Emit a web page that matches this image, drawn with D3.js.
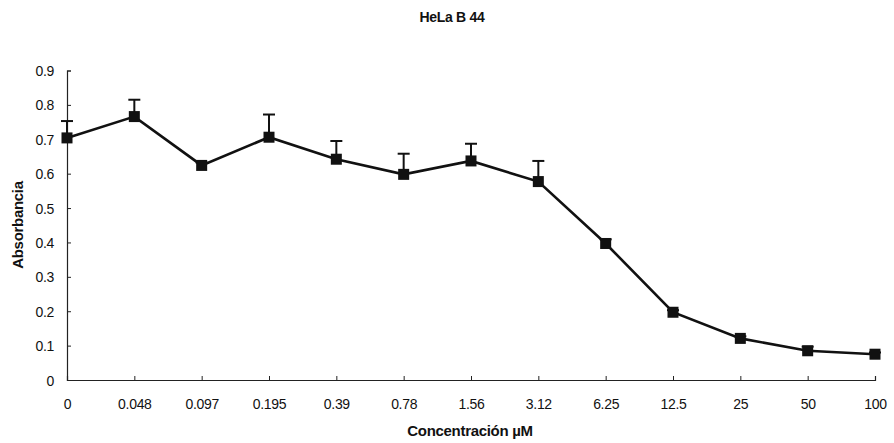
<!DOCTYPE html>
<html>
<head>
<meta charset="utf-8">
<script src="https://cdn.jsdelivr.net/npm/d3@7"></script>
<style>
  html, body { margin: 0; padding: 0; background: #fff; }
  svg text { font-family: "Liberation Sans", Arial, sans-serif; fill: #111; }
</style>
</head>
<body>
<svg id="chart" width="894" height="443"></svg>
<script>
// Concentrations (µM) along the category axis
const concentrations = ["0", "0.048", "0.097", "0.195", "0.39", "0.78", "1.56", "3.12", "6.25", "12.5", "25", "50", "100"];
// Mean absorbance at each concentration
const absorbance = [0.704, 0.766, 0.624, 0.706, 0.642, 0.598, 0.637, 0.577, 0.397, 0.197, 0.121, 0.085, 0.075];
// Upper error (SD) for each point
const errorUp = [0.049, 0.049, 0.008, 0.066, 0.053, 0.060, 0.050, 0.060, 0.012, 0.006, 0.006, 0.012, 0.005];
// Y-axis tick values
const yTicks = [0, 0.1, 0.2, 0.3, 0.4, 0.5, 0.6, 0.7, 0.8, 0.9];

const svg = d3.select("#chart");
const plotLeft = 67, plotRight = 875, plotTop = 70.5, plotBottom = 380;

const x = d3.scalePoint().domain(concentrations).range([plotLeft, plotRight]);
const y = d3.scaleLinear().domain([0, 0.9]).range([plotBottom, plotTop]);

// Axes
const yAxis = d3.axisLeft(y).tickValues(yTicks).tickSize(-4).tickPadding(13)
  .tickFormat(d => d === 0 ? "0" : d3.format(".1f")(d));
const ya = svg.append("g").attr("transform", `translate(${plotLeft},0)`).call(yAxis);
ya.select(".domain").attr("stroke", "#222").attr("stroke-width", 1.2);
ya.selectAll(".tick line").attr("stroke", "#222");
ya.selectAll("text").attr("font-size", 14).attr("dy", "0.36em").attr("letter-spacing", "-0.3");

const xAxis = d3.axisBottom(x).tickSize(-4).tickPadding(19);
const xa = svg.append("g").attr("transform", `translate(0,${plotBottom})`).call(xAxis);
xa.select(".domain").attr("stroke", "#222").attr("stroke-width", 1.2);
xa.selectAll(".tick line").attr("stroke", "#222");
xa.selectAll("text").attr("font-size", 14).attr("letter-spacing", "-0.3");

// Error bars (upper only)
const eb = svg.append("g").attr("stroke", "#111").attr("stroke-width", 2);
concentrations.forEach((c, i) => {
  const cx = x(c), y0 = y(absorbance[i]), y1 = y(absorbance[i] + errorUp[i]);
  eb.append("line").attr("x1", cx).attr("x2", cx).attr("y1", y0).attr("y2", y1);
  eb.append("line").attr("x1", cx - 6).attr("x2", cx + 6).attr("y1", y1).attr("y2", y1);
});

// Line
const line = d3.line().x((d, i) => x(concentrations[i])).y(d => y(d));
svg.append("path").datum(absorbance)
  .attr("fill", "none").attr("stroke", "#111").attr("stroke-width", 2.6)
  .attr("d", line);

// Square markers
svg.append("g").selectAll("rect").data(absorbance).join("rect")
  .attr("x", (d, i) => x(concentrations[i]) - 5.5)
  .attr("y", d => y(d) - 5.5)
  .attr("width", 11).attr("height", 11)
  .attr("fill", "#111");

// Titles
svg.append("text").attr("x", 452).attr("y", 22).attr("text-anchor", "middle")
  .attr("font-size", 14).attr("font-weight", "bold").attr("letter-spacing", "-0.3").text("HeLa B 44");
svg.append("text").attr("x", 470).attr("y", 436).attr("text-anchor", "middle")
  .attr("font-size", 15).attr("font-weight", "bold").attr("letter-spacing", "-0.3").text("Concentración µM");
svg.append("text").attr("transform", "translate(23,225) rotate(-90)").attr("text-anchor", "middle")
  .attr("font-size", 15).attr("font-weight", "bold").attr("letter-spacing", "-0.3").text("Absorbancia");
</script>
</body>
</html>
